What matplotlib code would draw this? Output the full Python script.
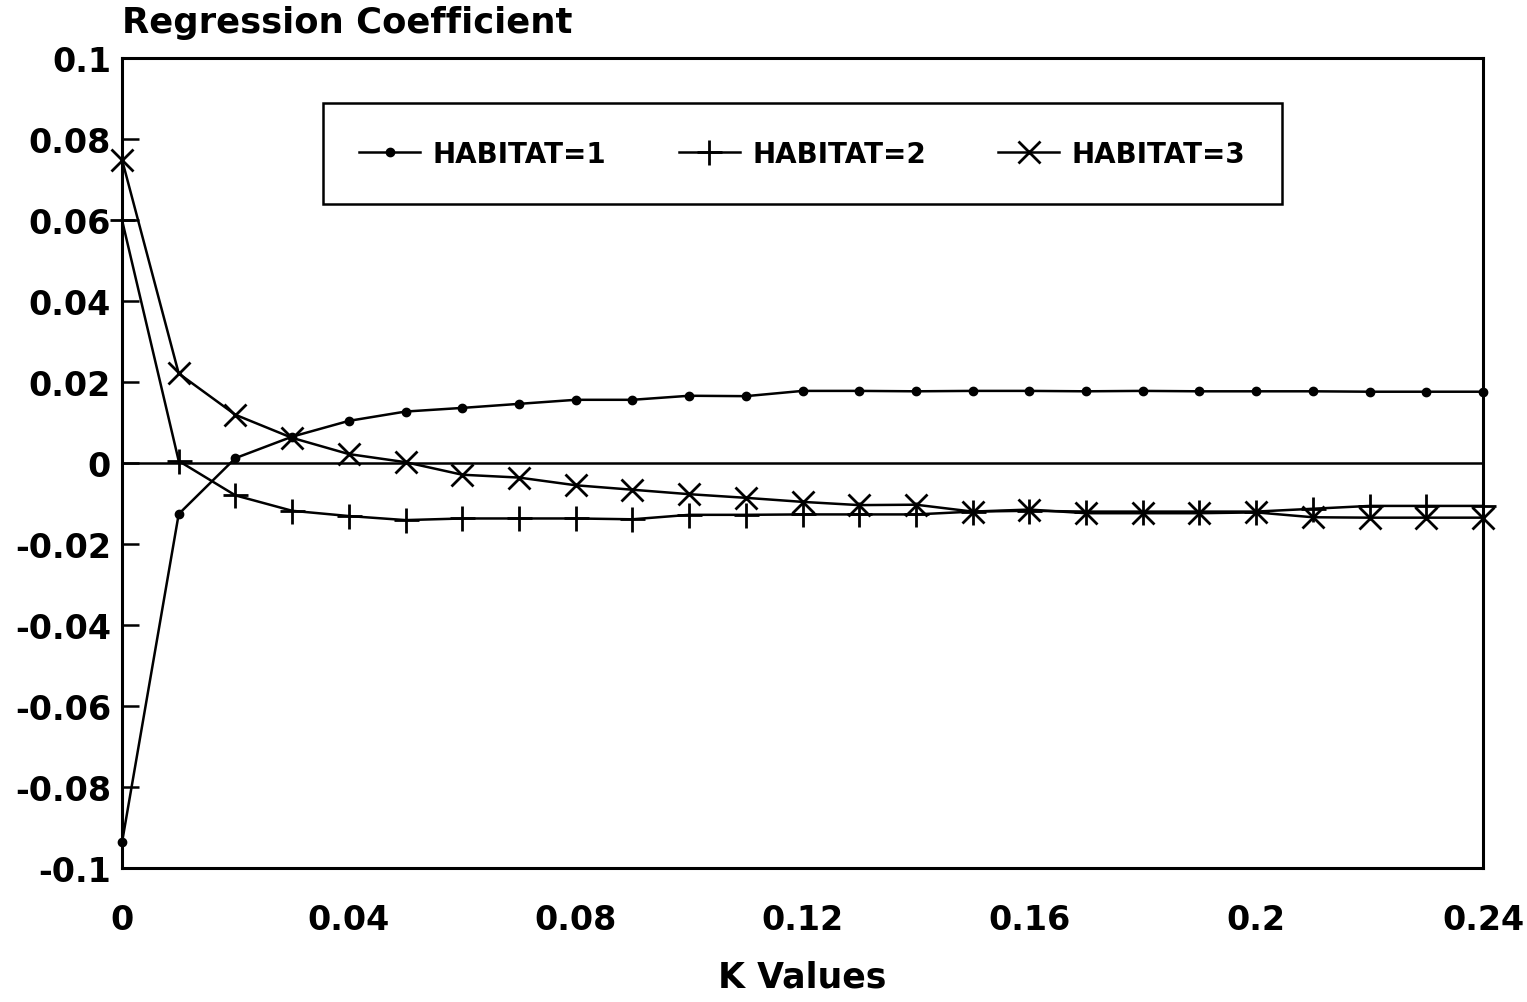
import matplotlib
matplotlib.use("Agg")
from matplotlib import pyplot as plt

# ridge trace: coefficients against the ridge parameter k
k_values = [0.00, 0.01, 0.02, 0.03, 0.04, 0.05, 0.06, 0.07, 0.08, 0.09,
            0.10, 0.11, 0.12, 0.13, 0.14, 0.15, 0.16, 0.17, 0.18, 0.19,
            0.20, 0.21, 0.22, 0.23, 0.24]

habitat_1 = [-0.0937, -0.0126, 0.0012, 0.0065, 0.0104, 0.0127, 0.0136, 0.0146,
             0.0156, 0.0156, 0.0166, 0.0165, 0.0178, 0.0178, 0.0177, 0.0178,
             0.0178, 0.0177, 0.0178, 0.0177, 0.0177, 0.0177, 0.0176, 0.0176,
             0.0176]

habitat_2 = [0.0600, 0.0005, -0.0080, -0.0118, -0.0131, -0.0141, -0.0137,
             -0.0137, -0.0137, -0.0139, -0.0128, -0.0128, -0.0127, -0.0127,
             -0.0127, -0.0120, -0.0118, -0.0120, -0.0120, -0.0120, -0.0120,
             -0.0113, -0.0106, -0.0106, -0.0106]

habitat_3 = [0.0749, 0.0221, 0.0119, 0.0062, 0.0022, 0.0002, -0.0029, -0.0036,
             -0.0055, -0.0066, -0.0077, -0.0086, -0.0096, -0.0104, -0.0103,
             -0.0120, -0.0115, -0.0124, -0.0124, -0.0124, -0.0122, -0.0134,
             -0.0135, -0.0135, -0.0135]

y_ticks = [0.1, 0.08, 0.06, 0.04, 0.02, 0, -0.02, -0.04, -0.06, -0.08, -0.1]
y_tick_labels = ["0.1", "0.08", "0.06", "0.04", "0.02", "0", "-0.02",
                 "-0.04", "-0.06", "-0.08", "-0.1"]
x_ticks = [0, 0.04, 0.08, 0.12, 0.16, 0.2, 0.24]
x_tick_labels = ["0", "0.04", "0.08", "0.12", "0.16", "0.2", "0.24"]


def main():
    plt.rcParams["font.family"] = ["DejaVu Sans"]
    plt.rcParams["font.weight"] = "bold"

    fig = plt.figure(figsize=(15.27, 10.03), dpi=100)
    ax = fig.add_axes([0.0799, 0.1336, 0.8913, 0.8076])

    lw = 1.8
    ax.axhline(0, color="black", lw=lw, zorder=1)
    ax.plot(k_values, habitat_1, color="black", lw=lw, marker="o",
            markersize=6, label="HABITAT=1", clip_on=False)
    ax.plot(k_values, habitat_2, color="black", lw=lw, marker="+",
            markersize=18, markeredgewidth=2, label="HABITAT=2", clip_on=False)
    ax.plot(k_values, habitat_3, color="black", lw=lw, marker="x",
            markersize=16, markeredgewidth=2, label="HABITAT=3", clip_on=False)

    ax.set_xlim(0, 0.24)
    ax.set_ylim(-0.1, 0.1)
    ax.set_xticks(x_ticks)
    ax.set_xticklabels(x_tick_labels, fontsize=24, fontweight="bold")
    ax.set_yticks(y_ticks)
    ax.set_yticklabels(y_tick_labels, fontsize=24, fontweight="bold")
    ax.tick_params(axis="y", direction="in", length=12, width=lw, pad=8)
    ax.tick_params(axis="x", length=0, pad=25)
    for spine in ax.spines.values():
        spine.set_linewidth(2.2)

    ax.set_xlabel("K Values", fontsize=25, fontweight="bold", labelpad=17)
    fig.text(122 / 1527, 1 - 23 / 1003, "Regression Coefficient",
             fontsize=25.5, fontweight="bold", ha="left", va="center")

    leg = ax.legend(loc="center", bbox_to_anchor=(0.5, 0.882), ncol=3,
                    frameon=True, fancybox=False, framealpha=1,
                    handlelength=2.2, handletextpad=0.45, columnspacing=2.6,
                    borderpad=1.3, prop={"size": 20, "weight": "bold"})
    leg.get_frame().set_edgecolor("black")
    leg.get_frame().set_linewidth(1.8)

    fig.savefig("out.png", dpi=100)
    plt.close(fig)


if __name__ == "__main__":
    main()
